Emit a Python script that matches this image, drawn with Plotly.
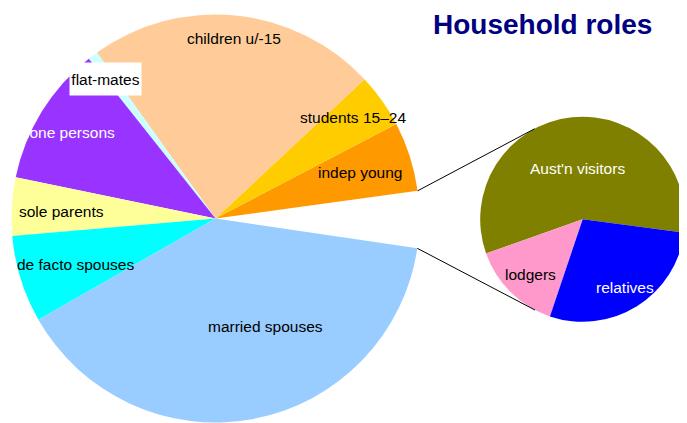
import math
import plotly.graph_objects as go

# ---------------- data ----------------
main_labels = ["indep young", "students 15\u201324", "children u/-15", "flat-mates",
               "lone persons", "sole parents", "de facto spouses", "married spouses", "other"]
main_values = [5.5, 4.3, 22.9, 0.8, 11.1, 4.6, 6.9, 39.4, 4.5]
main_colors = ["#FF9900", "#FFCC00", "#FFCC99", "#CCFFFF",
               "#9933FF", "#FFFF99", "#00FFFF", "#99CCFF", "rgba(0,0,0,0)"]

sub_labels = ["Aust'n visitors", "lodgers", "relatives"]
sub_values = [57.5, 14.4, 28.1]
sub_colors = ["#808000", "#FF99CC", "#0000FF"]

title_text = "Household roles"

# ---------------- layout geometry (page pixels) ----------------
PAGE_W, PAGE_H = 687, 423
OFF = 8                      # default body margin of the html page
W, H = PAGE_W - OFF, PAGE_H - OFF   # figure size

def fx(px):  # page x -> paper x
    return (px - OFF) / W

def fy(py):  # page y -> paper y
    return 1 - (py - OFF) / H

main_c = (215.5, 218.5); main_r = 204.0
sub_c = (582.7, 219.3); sub_r = 102.5
main_start = 82.2   # edge where first slice begins (deg clockwise from 12 o'clock)
sub_start = 97.5

def dom(c, r):
    return dict(x=[fx(c[0] - r), fx(c[0] + r)], y=[fy(c[1] + r), fy(c[1] - r)])

def rot_for(start, vals):
    # plotly (counterclockwise) puts the first slice clockwise of `rotation`
    return start - 360.0 * vals[0] / sum(vals)

fig = go.Figure()
fig.add_trace(go.Pie(labels=main_labels, values=main_values, sort=False,
                     direction="counterclockwise",
                     rotation=rot_for(main_start, main_values),
                     marker=dict(colors=main_colors, line=dict(width=0)),
                     textinfo="none", hoverinfo="label+percent",
                     domain=dom(main_c, main_r), showlegend=False))
fig.add_trace(go.Pie(labels=sub_labels, values=sub_values, sort=False,
                     direction="counterclockwise",
                     rotation=rot_for(sub_start, sub_values),
                     marker=dict(colors=sub_colors, line=dict(width=0)),
                     textinfo="none", hoverinfo="label+percent",
                     domain=dom(sub_c, sub_r), showlegend=False))

# connector lines: from edges of the "other" gap to tangent points on the sub pie
tot = sum(main_values)
other_frac = main_values[-1] / tot
ang_top = math.radians(main_start)                       # clockwise from top
ang_bot = math.radians(main_start + 360 * other_frac)

def pt(c, r, a):
    return (c[0] + r * math.sin(a), c[1] - r * math.cos(a))

def tangent(p, c, r, upper):
    dx, dy = p[0] - c[0], -(p[1] - c[1])
    d = math.hypot(dx, dy)
    base = math.atan2(dy, dx)
    t = math.acos(r / d)
    a = base - t if upper else base + t
    return (c[0] + r * math.cos(a), c[1] - r * math.sin(a))

p_top = pt(main_c, main_r, ang_top)
p_bot = pt(main_c, main_r, ang_bot)
q_top = tangent(p_top, sub_c, sub_r, upper=True)
q_bot = tangent(p_bot, sub_c, sub_r, upper=False)
for p, q in [(p_top, q_top), (p_bot, q_bot)]:
    fig.add_shape(type="line", xref="paper", yref="paper",
                  x0=fx(p[0]), y0=fy(p[1]), x1=fx(q[0]), y1=fy(q[1]),
                  line=dict(color="#000000", width=1))

# label placement (page pixel centres) and colours
label_pos = {
    "children u/-15": (234, 38), "flat-mates": (105, 79), "students 15\u201324": (353, 118),
    "indep young": (360, 172), "lone persons": (70, 133), "sole parents": (61, 211),
    "de facto spouses": (75, 264), "married spouses": (265, 326),
    "Aust'n visitors": (577, 168), "lodgers": (530, 274), "relatives": (625, 287),
}
white_text = {"lone persons", "Aust'n visitors", "relatives"}
FONT = "Liberation Sans, Arial, sans-serif"

for lab in main_labels[:-1] + sub_labels:
    x, y = label_pos[lab]
    kw = {}
    if lab == "flat-mates":
        kw = dict(bgcolor="#FFFFFF", width=71, height=32, borderpad=0)
    fig.add_annotation(text=lab, x=fx(x), y=fy(y), xref="paper", yref="paper",
                       xanchor="center", yanchor="middle", showarrow=False,
                       font=dict(family=FONT, size=15.5,
                                 color="#FFFFFF" if lab in white_text else "#000000"),
                       **kw)

fig.add_annotation(text="<b>" + title_text + "</b>", x=fx(542), y=1,
                   xref="paper", yref="paper", xanchor="center", yanchor="top",
                   showarrow=False, borderpad=0,
                   font=dict(family="Liberation Sans, Arial, sans-serif", size=28,
                             color="#000080"))

fig.update_layout(width=W, height=H, margin=dict(l=0, r=0, t=0, b=0),
                  paper_bgcolor="#FFFFFF", plot_bgcolor="#FFFFFF")
fig.write_html("out.html")
